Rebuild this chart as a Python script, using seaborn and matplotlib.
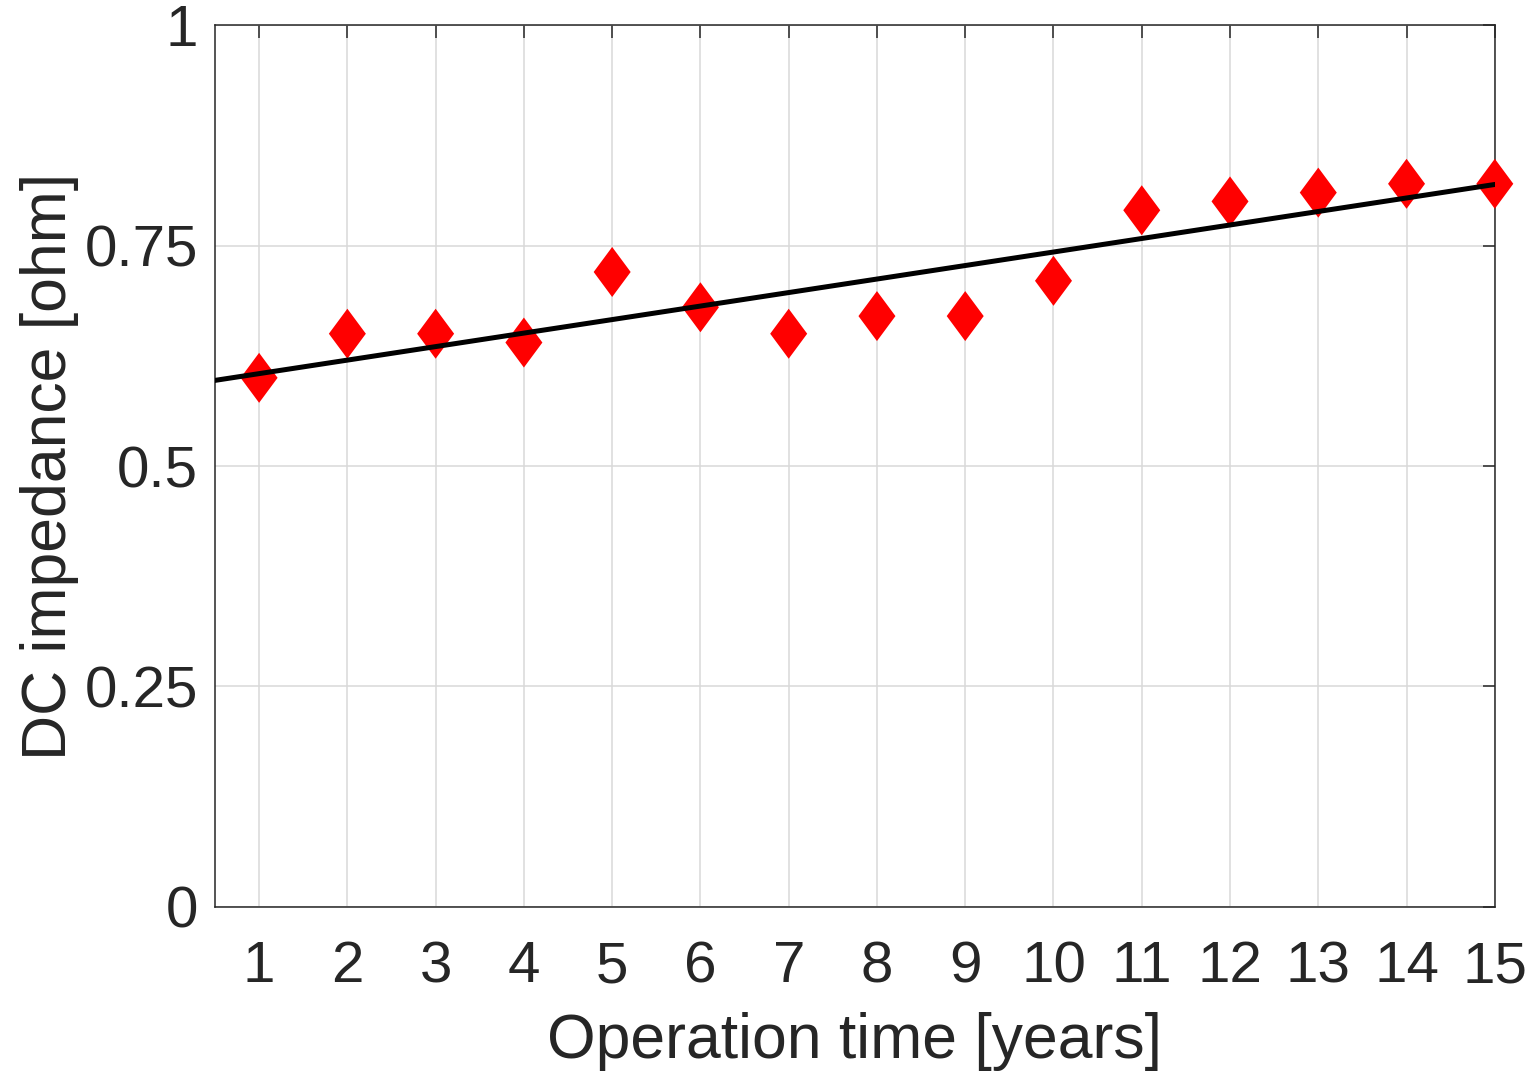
import numpy as np
import pandas as pd
import matplotlib
matplotlib.use("Agg")
import matplotlib.pyplot as plt
import seaborn as sns

years = [1, 2, 3, 4, 5, 6, 7, 8, 9, 10, 11, 12, 13, 14, 15]
impedance = [0.60, 0.65, 0.65, 0.64, 0.72, 0.68, 0.65, 0.67, 0.67, 0.71,
             0.79, 0.80, 0.81, 0.82, 0.82]
y_ticks = [0, 0.25, 0.5, 0.75, 1]
y_ticklabels = ["0", "0.25", "0.5", "0.75", "1"]

sns.set_theme(style="white")
plt.rcParams['font.family'] = ['Liberation Sans', 'DejaVu Sans']
txt = '#262626'

df = pd.DataFrame({"year": years, "imp": impedance})
coef = np.polyfit(df["year"], df["imp"], 1)
xfit = np.array([0.5, 15.0])
fit = pd.DataFrame({"x": xfit, "y": np.polyval(coef, xfit)})

fig = plt.figure(figsize=(15.3, 10.75), dpi=100)
ax = fig.add_axes([0.1405, 0.1563, 0.977 - 0.1405, 0.9767 - 0.1563])

diamond = [(0, 1), (0.74, 0), (0, -1), (-0.74, 0), (0, 1)]
sns.scatterplot(data=df, x="year", y="imp", marker=diamond, s=36**2,
                color='#ff0000', edgecolor='none', linewidth=0, ax=ax,
                clip_on=False, zorder=3)
sns.lineplot(data=fit, x="x", y="y", color='black', linewidth=3.6, ax=ax,
             zorder=4)

ax.set_xlim(0.5, 15)
ax.set_ylim(0, 1)
ax.set_xticks(years)
ax.set_xticklabels([str(v) for v in years])
ax.set_yticks(y_ticks)
ax.set_yticklabels(y_ticklabels)
ax.grid(True, color='#d9d9d9', linewidth=1.1)
ax.set_axisbelow(True)
for s in ax.spines.values():
    s.set_visible(True)
    s.set_color(txt)
    s.set_linewidth(1.1)
ax.tick_params(axis='both', direction='in', length=9, width=1.1, color=txt,
               labelsize=42, labelcolor=txt, top=True, right=True,
               labeltop=False, labelright=False)
ax.tick_params(axis='x', pad=24)
ax.tick_params(axis='y', pad=12)
ax.set_xlabel("Operation time [years]", fontsize=45, color=txt, labelpad=13)
ax.set_ylabel("DC impedance [ohm]", fontsize=45, color=txt, labelpad=4)

fig.savefig("out.png", dpi=100)
